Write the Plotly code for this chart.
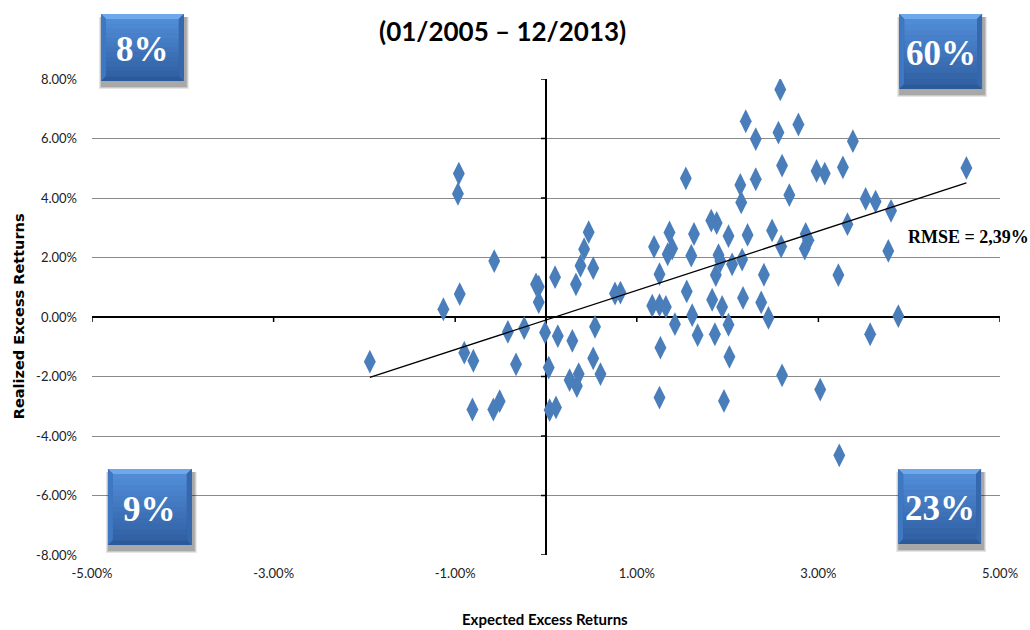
import numpy as np
import plotly.graph_objects as go

# ---------------- data (percent units) ----------------
expected = [
    -1.94, -1.13, -0.96, -0.97, -0.95, -0.90, -0.80, -0.81, -0.57, -0.58,
    -0.51, -0.42, -0.33, -0.24, -0.11, -0.08, -0.08, -0.01,
    0.03, 0.04, 0.11, 0.10, 0.13, 0.29, 0.33, 0.38, 0.42, 0.47,
    0.52, 0.54, 0.52, 0.60, 0.26, 0.36, 0.34, 0.76, 0.82,
    1.19, 1.25, 1.36, 1.34, 1.39, 1.17, 1.25, 1.32, 1.54, 1.55,
    1.42, 1.61, 1.67, 1.26, 1.25, 1.63, 1.60,
    1.82, 1.88, 1.90, 1.92, 2.05, 2.16, 1.87, 1.83, 1.94, 2.17,
    2.37, 1.86, 2.01, 2.02, 1.96, 2.01, 2.14, 2.15, 2.20, 2.31,
    2.31, 2.22, 2.40, 2.49, 2.45,
    2.58, 2.56, 2.78, 2.60, 2.68, 2.59, 2.60, 2.86, 2.89, 2.85,
    2.98, 3.07, 3.02, 3.23, 3.22, 3.27, 3.32, 3.38, 3.52, 3.63,
    3.57, 3.77, 3.80, 3.88, 4.63,
]
realized = [
    -1.50, 0.26, 4.82, 4.14, 0.77, -1.20, -1.47, -3.11, 1.88, -3.11,
    -2.83, -0.50, -1.59, -0.37, 1.10, 1.02, 0.50, -0.52,
    -1.70, -3.13, -3.04, 1.34, -0.64, -0.80, 1.10, 1.72, 2.28, 2.85,
    1.64, -0.33, -1.39, -1.92, -2.12, -1.92, -2.32, 0.79, 0.82,
    2.36, 1.44, 2.84, 2.11, 2.30, 0.38, 0.40, 0.34, 4.66, 0.86,
    -0.24, 0.06, -0.61, -1.03, -2.71, 2.79, 2.06,
    3.24, 3.16, 2.08, 1.88, 1.77, 1.93, 1.41, 0.58, 0.34, 0.64,
    0.49, -0.58, -0.26, -1.34, -2.82, 2.72, 4.44, 3.85, 6.58, 5.98,
    4.63, 2.76, 1.42, 2.91, -0.03,
    7.65, 6.20, 6.47, 5.09, 4.10, 2.37, -1.96, 2.79, 2.58, 2.30,
    4.91, 4.82, -2.44, -4.65, 1.41, 5.03, 3.12, 5.91, 3.97, 3.88,
    -0.58, 2.22, 3.57, 0.03, 5.01,
]

# trend line as shown on the chart
trend_slope = 0.995
trend_intercept = -0.10

x_tickvals = [-5, -3, -1, 1, 3, 5]
x_ticktext = ["-5.00%", "-3.00%", "-1.00%", "1.00%", "3.00%", "5.00%"]
y_tickvals = [8, 6, 4, 2, 0, -2, -4, -6, -8]
y_ticktext = ["8.00%", "6.00%", "4.00%", "2.00%", "0.00%",
              "-2.00%", "-4.00%", "-6.00%", "-8.00%"]

quadrant_labels = ["8%", "60%", "9%", "23%"]
rmse_text = "RMSE = 2,39%"
title_text = "(01/2005 – 12/2013)"
x_title = "Expected Excess Returns"
y_title = "Realized Excess Retturns"

# ---------------- layout geometry ----------------
W, H = 1030, 630
L, R, T, B = 92, 28, 79, 75
PW, PH = W - L - R, H - T - B


def px(x):
    return (x - L) / PW


def py(y):
    return (H - B - y) / PH


xa = np.array(expected)
trend_x = [float(xa.min()), float(xa.max())]
trend_y = [trend_slope * v + trend_intercept for v in trend_x]

fig = go.Figure()

fig.add_trace(go.Scatter(
    x=expected, y=realized, mode="markers",
    marker=dict(symbol="diamond-tall", size=17, color="#4a7ebb",
                line=dict(width=0)),
    hoverinfo="skip", showlegend=False,
))
fig.add_trace(go.Scatter(
    x=trend_x, y=trend_y, mode="lines",
    line=dict(color="black", width=1.3),
    hoverinfo="skip", showlegend=False,
))

shapes = []
# tick marks on the crossing axes
for tv in x_tickvals:
    shapes.append(dict(type="line", xref="x", yref="y", ysizemode="pixel",
                       yanchor=0, x0=tv, x1=tv, y0=0, y1=-5,
                       line=dict(color="black", width=1.5)))
for tv in y_tickvals:
    shapes.append(dict(type="line", xref="x", yref="y", xsizemode="pixel",
                       xanchor=0, y0=tv, y1=tv, x0=0, x1=-5,
                       line=dict(color="black", width=1.5)))

# quadrant boxes (pixel boxes)
boxes = [(101, 14, 184, 81), (901, 14, 984, 89),
         (108, 469, 192, 545), (900, 469, 983, 544)]


def lerp(c1, c2, t):
    return "rgb(%d,%d,%d)" % tuple(int(round(a + (b - a) * t)) for a, b in zip(c1, c2))


annotations = []
for (x0, y0, x1, y1), lab in zip(boxes, quadrant_labels):
    # shadow
    for k, op in enumerate([0.10, 0.12, 0.16]):
        d = 3 - k
        shapes.append(dict(type="rect", xref="paper", yref="paper",
                           x0=px(x0 + 1 - d), x1=px(x1 + 2 + d),
                           y0=py(y1 + 5 + d), y1=py(y0 + 3),
                           fillcolor="rgba(0,0,0,%.2f)" % op, line=dict(width=0),
                           layer="above"))
    shapes.append(dict(type="rect", xref="paper", yref="paper",
                       x0=px(x0), x1=px(x1), y0=py(y1), y1=py(y0),
                       fillcolor="#2c5a98", line=dict(width=0), layer="above"))
    b = 5
    shapes.append(dict(type="path", xref="paper", yref="paper",
                       path="M %f %f L %f %f L %f %f L %f %f Z" % (
                           px(x0), py(y0), px(x1), py(y0),
                           px(x1 - b), py(y0 + b), px(x0 + b), py(y0 + b)),
                       fillcolor="#6ea8ea", line=dict(width=0), layer="above"))
    shapes.append(dict(type="path", xref="paper", yref="paper",
                       path="M %f %f L %f %f L %f %f L %f %f Z" % (
                           px(x0), py(y0), px(x0 + b), py(y0 + b),
                           px(x0 + b), py(y1 - b), px(x0), py(y1)),
                       fillcolor="#3f78c2", line=dict(width=0), layer="above"))
    shapes.append(dict(type="path", xref="paper", yref="paper",
                       path="M %f %f L %f %f L %f %f L %f %f Z" % (
                           px(x1), py(y0), px(x1 - b), py(y0 + b),
                           px(x1 - b), py(y1 - b), px(x1), py(y1)),
                       fillcolor="#3568ad", line=dict(width=0), layer="above"))
    n = 12
    top_c, bot_c = (80, 140, 214), (50, 98, 165)
    fy0, fy1 = y0 + b, y1 - b
    for i in range(n):
        s0 = fy0 + (fy1 - fy0) * i / n
        s1 = fy0 + (fy1 - fy0) * (i + 1) / n + 0.5
        shapes.append(dict(type="rect", xref="paper", yref="paper",
                           x0=px(x0 + b), x1=px(x1 - b), y0=py(s1), y1=py(s0),
                           fillcolor=lerp(top_c, bot_c, i / (n - 1)),
                           line=dict(width=0), layer="above"))
    annotations.append(dict(
        xref="paper", yref="paper", x=px((x0 + x1) / 2), y=py((y0 + y1) / 2 + 2),
        text="<b>%s</b>" % lab, showarrow=False, xanchor="center", yanchor="middle",
        font=dict(family="Liberation Serif, Times New Roman, serif", size=35,
                  color="white")))

annotations.append(dict(
    x=3.97, y=2.69, xref="x", yref="y", text="<b>%s</b>" % rmse_text,
    showarrow=False, xanchor="left", yanchor="middle",
    font=dict(family="Liberation Serif, Times New Roman, serif", size=18,
              color="black")))
annotations.append(dict(
    xref="paper", yref="paper", x=px(503), y=py(31), text="<b>%s</b>" % title_text,
    showarrow=False, xanchor="center", yanchor="middle",
    font=dict(family="Lato, sans-serif", size=26, color="black")))
annotations.append(dict(
    xref="paper", yref="paper", x=px(546), y=py(619), text="<b>%s</b>" % x_title,
    showarrow=False, xanchor="center", yanchor="middle",
    font=dict(family="Lato, sans-serif", size=15, color="black")))
annotations.append(dict(
    xref="paper", yref="paper", x=px(19), y=py(316), text="<b>%s</b>" % y_title,
    showarrow=False, xanchor="center", yanchor="middle", textangle=-90,
    font=dict(family="DejaVu Sans, sans-serif", size=14.5, color="black")))

tickfont = dict(family="Lato, sans-serif", size=13, color="#222222")

fig.update_layout(
    width=W, height=H,
    margin=dict(l=L, r=R, t=T, b=B, pad=0),
    paper_bgcolor="white", plot_bgcolor="white",
    showlegend=False,
    xaxis=dict(range=[-5, 5], tickvals=x_tickvals, ticktext=x_ticktext,
               showgrid=False, zeroline=True, zerolinecolor="black",
               zerolinewidth=1.5, showline=False, ticks="", tickfont=tickfont,
               ticklabelstandoff=9, fixedrange=True),
    yaxis=dict(range=[-8, 8], tickvals=y_tickvals, ticktext=y_ticktext,
               showgrid=True, gridcolor="#8a8a8a", gridwidth=1.3,
               zeroline=True, zerolinecolor="black", zerolinewidth=1.5,
               showline=False, ticks="", tickfont=tickfont,
               ticklabelstandoff=14, fixedrange=True),
    shapes=shapes,
    annotations=annotations,
)

fig.write_html(
    "out.html",
    config={"displayModeBar": False},
    post_script="document.body.style.margin='0';document.body.style.padding='0';",
)
